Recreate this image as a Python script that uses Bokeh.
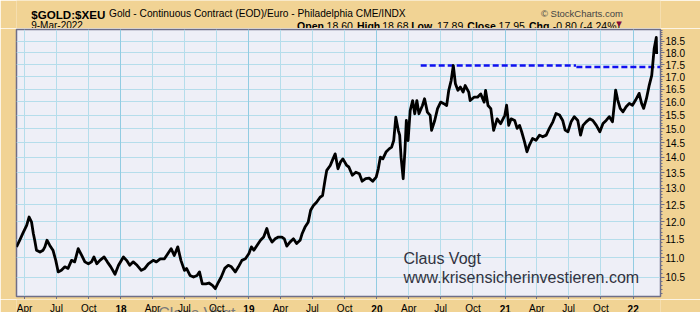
import numpy as np
import pandas as pd
from bokeh.plotting import figure
from bokeh.layouts import column
from bokeh.models import (Range1d, FixedTicker, PrintfTickFormatter, Label,
                          Grid, CustomJSTickFormatter)
from bokeh.core.properties import value
from bokeh.embed import file_html
from bokeh.resources import INLINE

# ---------------- data ----------------
dates = [
    "2017-03-09", "2017-03-18", "2017-03-27", "2017-04-07", "2017-04-14", "2017-04-21", "2017-04-26",
    "2017-04-30", "2017-05-05", "2017-05-15", "2017-05-24", "2017-05-29", "2017-06-04", "2017-06-12",
    "2017-06-21", "2017-06-29", "2017-07-06", "2017-07-15", "2017-07-25", "2017-08-03", "2017-08-13",
    "2017-08-22", "2017-09-01", "2017-09-11", "2017-09-20", "2017-09-30", "2017-10-09", "2017-10-16",
    "2017-10-24", "2017-11-02", "2017-11-14", "2017-11-23", "2017-12-03", "2017-12-15", "2017-12-25",
    "2018-01-08", "2018-01-17", "2018-01-26", "2018-02-05", "2018-02-16", "2018-02-28", "2018-03-10",
    "2018-03-20", "2018-04-03", "2018-04-12", "2018-04-23", "2018-05-05", "2018-05-15", "2018-05-24",
    "2018-06-02", "2018-06-12", "2018-06-21", "2018-07-01", "2018-07-07", "2018-07-17", "2018-07-27",
    "2018-08-06", "2018-08-13", "2018-08-21", "2018-08-31", "2018-09-09", "2018-09-19", "2018-09-27",
    "2018-10-06", "2018-10-14", "2018-10-24", "2018-11-03", "2018-11-12", "2018-11-23", "2018-12-02",
    "2018-12-12", "2018-12-22",
    "2019-01-01", "2019-01-08", "2019-01-15", "2019-01-24", "2019-02-03", "2019-02-12", "2019-02-21",
    "2019-02-28", "2019-03-08", "2019-03-17", "2019-03-26", "2019-04-05", "2019-04-12", "2019-04-19",
    "2019-04-28", "2019-05-08", "2019-05-17", "2019-05-27", "2019-06-02", "2019-06-10", "2019-06-19",
    "2019-06-26", "2019-07-04", "2019-07-13", "2019-07-23", "2019-07-30", "2019-08-06", "2019-08-11",
    "2019-08-21", "2019-08-27", "2019-09-04", "2019-09-12", "2019-09-19", "2019-09-26", "2019-10-07",
    "2019-10-13", "2019-10-23", "2019-11-02", "2019-11-12", "2019-11-20", "2019-11-30", "2019-12-10",
    "2019-12-20", "2019-12-30",
    "2020-01-05", "2020-01-11", "2020-01-18", "2020-01-27", "2020-02-05", "2020-02-12", "2020-02-18",
    "2020-02-24", "2020-03-02", "2020-03-06", "2020-03-10", "2020-03-16", "2020-03-21", "2020-03-25",
    "2020-03-30", "2020-04-05", "2020-04-12", "2020-04-18", "2020-04-24", "2020-04-30", "2020-05-10",
    "2020-05-16", "2020-05-24", "2020-06-01", "2020-06-05", "2020-06-14", "2020-06-22", "2020-07-01",
    "2020-07-10", "2020-07-18", "2020-07-24", "2020-07-31", "2020-08-06", "2020-08-12", "2020-08-19",
    "2020-08-26", "2020-09-03", "2020-09-09", "2020-09-19", "2020-09-23", "2020-10-04", "2020-10-14",
    "2020-10-23", "2020-11-02", "2020-11-06", "2020-11-13", "2020-11-21", "2020-11-29", "2020-12-09",
    "2020-12-19", "2020-12-31",
    "2021-01-05", "2021-01-11", "2021-01-18", "2021-01-28", "2021-02-04", "2021-02-11", "2021-02-17",
    "2021-02-25", "2021-03-04", "2021-03-11", "2021-03-20", "2021-03-30", "2021-04-09", "2021-04-18",
    "2021-04-28", "2021-05-07", "2021-05-17", "2021-05-26", "2021-06-05", "2021-06-14", "2021-06-21",
    "2021-06-29", "2021-07-08", "2021-07-17", "2021-07-27", "2021-08-04", "2021-08-11", "2021-08-20",
    "2021-08-30", "2021-09-08", "2021-09-18", "2021-09-28", "2021-10-07", "2021-10-16", "2021-10-25",
    "2021-11-03", "2021-11-08", "2021-11-12", "2021-11-18", "2021-11-25", "2021-12-03", "2021-12-12",
    "2021-12-21", "2021-12-30",
    "2022-01-08", "2022-01-18", "2022-01-25", "2022-01-31", "2022-02-08", "2022-02-16", "2022-02-23",
    "2022-03-02", "2022-03-08", "2022-03-09",
]
prices = [
    11.29, 11.47, 11.66, 11.89, 12.13, 11.98, 11.66,
    11.47, 11.20, 11.15, 11.20, 11.29, 11.47, 11.33,
    11.20, 10.93, 10.63, 10.67, 10.76, 10.72, 10.93,
    10.89, 11.24, 11.06, 10.89, 10.84, 10.89, 11.02,
    10.84, 10.93, 11.02, 10.89, 10.76, 10.57, 10.80,
    11.02, 10.93, 10.80, 10.89, 10.80, 10.67, 10.72,
    10.84, 10.93, 10.89, 10.97, 10.97, 11.11, 11.24,
    11.06, 11.29, 10.93, 10.67, 10.72, 10.54, 10.50,
    10.54, 10.63, 10.33, 10.33, 10.35, 10.29, 10.21,
    10.37, 10.50, 10.72, 10.80, 10.76, 10.63, 10.76,
    10.93, 10.97,
    11.11, 11.29, 11.20, 11.33, 11.47, 11.56, 11.80,
    11.56, 11.42, 11.51, 11.56, 11.56, 11.51, 11.31,
    11.42, 11.51, 11.38, 11.47, 11.66, 11.84, 11.98,
    12.33, 12.47, 12.57, 12.72, 12.77, 13.25, 13.57,
    13.73, 13.90, 14.12, 13.62, 13.84, 13.95, 13.73,
    13.68, 13.41, 13.51, 13.46, 13.22, 13.30, 13.32,
    13.22, 13.35,
    13.62, 14.01, 13.95, 14.18, 14.29, 14.35, 14.58,
    15.42, 14.94, 14.77, 14.00, 13.30, 14.23, 15.30,
    14.58, 15.67, 16.05, 15.55, 16.05, 15.55, 15.86,
    16.12, 15.61, 15.49, 14.94, 15.30, 15.74, 15.99,
    15.93, 15.86, 16.45, 16.85, 17.46, 16.71, 16.45,
    16.58, 16.38, 16.64, 16.38, 16.05, 16.18, 16.18,
    16.31, 15.99, 16.45, 15.86, 15.74, 14.94, 15.36,
    15.18, 15.49,
    15.87, 15.12, 15.36, 15.30, 15.01, 15.12, 14.89,
    14.54, 14.19, 14.42, 14.65, 14.59, 14.77, 14.71,
    14.77, 15.01, 15.25, 15.56, 15.50, 15.30, 14.95,
    14.89, 15.25, 15.44, 15.30, 14.77, 15.12, 15.25,
    15.36, 15.30, 15.12, 14.89, 15.19, 15.30, 15.44,
    15.25, 15.87, 16.46, 16.07, 15.75, 15.62, 15.81,
    15.94, 15.87,
    16.07, 16.33, 15.94, 15.75, 16.13, 16.66, 17.05,
    18.19, 18.68, 17.95,
]

# resistance line (dashed blue), two pieces
res_a_dates = ["2020-05-05", "2021-07-22"]
res_a_vals = [17.46, 17.46]
res_b_dates = ["2021-07-23", "2022-03-25"]
res_b_vals = [17.40, 17.40]

# axis ticks
y_ticks = [10.5, 11.0, 11.5, 12.0, 12.5, 13.0, 13.5, 14.0, 14.5, 15.0, 15.5, 16.0, 16.5, 17.0, 17.5, 18.0, 18.5]
y_minor = [round(10.0 + 0.1 * i, 1) for i in range(91)]
month_tick_dates = ["2017-04-01", "2017-07-01", "2017-10-01",
                    "2018-04-01", "2018-07-01", "2018-10-01",
                    "2019-04-01", "2019-07-01", "2019-10-01",
                    "2020-04-01", "2020-07-01", "2020-10-01",
                    "2021-04-01", "2021-07-01", "2021-10-01"]
month_tick_labels = ["Apr", "Jul", "Oct"] * 5
year_tick_dates = ["2018-01-01", "2019-01-01", "2020-01-01", "2021-01-01", "2022-01-01"]
year_tick_labels = ["18", "19", "20", "21", "22"]

# header texts
title_sym = "$GOLD:$XEU"
title_desc = "Gold - Continuous Contract (EOD)/Euro - Philadelphia CME/INDX"
copyright_txt = "\u00a9 StockCharts.com"
date_txt = "9-Mar-2022"
ohlc_keys = ["Open", "High", "Low", "Close", "Chg"]
ohlc_vals = ["18.60", "18.68", "17.89", "17.95", "-0.80 (-4.24%)"]
ghost_date = ["2018-04-17"]

x_start, x_end = "2017-03-09", "2022-03-20"

FONT = "Liberation Sans"
TAN = "#F1D394"
EDGE = "#6E6E88"


def to_ms(lst):
    return [float(v) for v in pd.to_datetime(lst).values.astype("datetime64[ms]").astype("int64")]


# ---------------- header strip (canvas-pixel coordinates) ----------------
HH = 28
hdr = figure(width=700, height=HH, x_range=Range1d(0, 700), y_range=Range1d(HH, 0),
             x_axis_location=None, y_axis_location=None, output_backend="svg",
             toolbar_location=None, min_border=0, outline_line_color=None,
             background_fill_color=TAN, border_fill_color=TAN)
hdr.grid.visible = False


def htext(xs, ys, txt, size, bold=False, color="black", font=FONT, align="left"):
    hdr.text(x=xs, y=ys, text=txt, text_font=value(font), text_font_size=value(size),
             text_font_style=value("bold" if bold else "normal"), text_color=color,
             text_align=value(align), text_baseline=value("alphabetic"))


htext([16], [13.5], [title_sym], "11.6px", bold=True)
htext([100.5], [13], [title_desc], "10.2px")
htext([570], [13], [copyright_txt], "9.5px", color="#444444")
htext([16], [25], [date_txt], "10px")
htext([305, 370, 429, 490, 557], [25] * 5, ohlc_keys, "10.5px", bold=True)
htext([337, 397.5, 457, 524, 583], [25] * 5, ohlc_vals, "10.5px")
htext([655], [23.8], ["\u25bc"], "7px", color="#8B0A3A", font="DejaVu Sans", align="center")

# ---------------- main chart ----------------
p = figure(frame_width=644, frame_height=267, x_axis_type="datetime", y_axis_type="log",
           x_range=Range1d(to_ms([x_start])[0], to_ms([x_end])[0]),
           y_range=Range1d(10.02, 19.04),
           y_axis_location="right", output_backend="svg", toolbar_location=None,
           min_border_left=16, min_border_right=40, min_border_top=1, min_border_bottom=3,
           background_fill_color="#EEEFF7", border_fill_color=TAN)

p.outline_line_color = EDGE
p.outline_line_width = 1.5

all_ticks = sorted(to_ms(month_tick_dates) + to_ms(year_tick_dates))

xa = p.xaxis[0]
xa.ticker = FixedTicker(ticks=all_ticks, minor_ticks=[])
xa.formatter = CustomJSTickFormatter(code="return ''")
xa.major_label_text_font_size = "0px"
xa.major_label_standoff = 0
xa.major_tick_out = 3
xa.major_tick_in = 0
xa.minor_tick_out = 0
xa.minor_tick_in = 0
xa.axis_line_color = EDGE
xa.major_tick_line_color = EDGE

ya = p.yaxis[0]
ya.ticker = FixedTicker(ticks=y_ticks, minor_ticks=y_minor)
ya.formatter = PrintfTickFormatter(format="%.1f")
ya.major_label_text_font = FONT
ya.major_label_text_font_size = "10px"
ya.major_label_text_color = "black"
ya.major_label_standoff = 1
ya.major_tick_out = 4
ya.major_tick_in = 0
ya.minor_tick_out = 2
ya.minor_tick_in = 0
ya.axis_line_color = EDGE
ya.major_tick_line_color = EDGE
ya.minor_tick_line_color = EDGE

p.ygrid.ticker = FixedTicker(ticks=y_ticks)
p.ygrid.grid_line_color = "#B5DDEB"
p.xgrid.ticker = FixedTicker(ticks=all_ticks)
p.xgrid.grid_line_color = "#B5DDEB"
p.add_layout(Grid(dimension=0, ticker=FixedTicker(ticks=to_ms(year_tick_dates)),
                  grid_line_color="#92CCE2"))

# resistance lines
p.line(pd.to_datetime(res_a_dates), res_a_vals, line_color="#1010F0", line_width=2.5, line_dash="6 3")
p.line(pd.to_datetime(res_b_dates), res_b_vals, line_color="#1010F0", line_width=2.5, line_dash="6 3")

# price line
p.line(pd.to_datetime(dates), prices, line_color="black", line_width=2.8, line_join="round")

# watermark (frame-relative screen units)
for txt, sy in (("Claus Vogt", 38), ("www.krisensicherinvestieren.com", 19)):
    p.add_layout(Label(x=387, y=sy, x_units="screen", y_units="screen", text=txt,
                       text_font=FONT, text_font_size="16px", text_color="#333340",
                       text_baseline="alphabetic"))

# ---------------- footer strip with x tick labels (shares the x range) ----------------
FH = 13
ftr = figure(width=700, height=FH, x_range=p.x_range, y_range=Range1d(FH, 0),
             x_axis_location=None, y_axis_location=None, output_backend="svg",
             toolbar_location=None, min_border_left=16, min_border_right=40,
             min_border_top=0, min_border_bottom=0, outline_line_color=None,
             background_fill_color=TAN, border_fill_color=TAN)
ftr.grid.visible = False
# faint signature text at the very bottom, cut by the picture edge as in the reference
ftr.text(x=pd.to_datetime(ghost_date), y=[5], text=["Claus Vogt"],
         text_font=value(FONT), text_font_size=value("16px"), text_color="#7A7A7A",
         text_align=value("left"), text_baseline=value("top"))
ftr.text(x=pd.to_datetime(month_tick_dates), y=[9.0] * len(month_tick_dates), text=month_tick_labels,
         text_font=value(FONT), text_font_size=value("10px"), text_color="black",
         text_align=value("center"), text_baseline=value("alphabetic"))
ftr.text(x=pd.to_datetime(year_tick_dates), y=[9.0] * len(year_tick_dates), text=year_tick_labels,
         text_font=value(FONT), text_font_size=value("10px"), text_font_style=value("bold"),
         text_color="black", text_align=value("center"), text_baseline=value("alphabetic"))

layout = column(hdr, p, ftr, spacing=0)
open("out.html", "w").write(file_html(layout, INLINE))
